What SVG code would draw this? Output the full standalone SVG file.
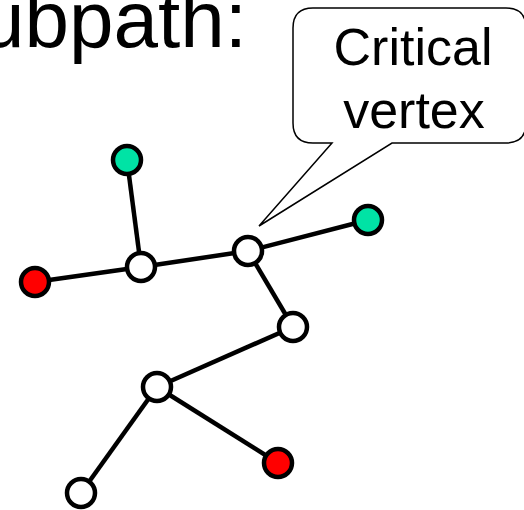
<svg xmlns="http://www.w3.org/2000/svg" width="524" height="510" viewBox="0 0 524 510">
  <style>
    .title { font-family: "Liberation Sans", Arial, sans-serif; font-size: 80px; fill: #000; }
    .label { font-family: "Liberation Sans", Arial, sans-serif; font-size: 52px; fill: #000; text-anchor: middle; }
    .callout { fill: #fff; stroke: #000; stroke-width: 1.5; stroke-linejoin: miter; }
    .edge { stroke: #000; stroke-width: 4.5; fill: none; }
    .node { stroke: #000; stroke-width: 4.5; }
    .plain { fill: #fff; }
    .leaf-a { fill: #00E3A5; }
    .leaf-b { fill: #FF0000; }
  </style>

  <rect width="524" height="510" fill="#fff"/>

  <text class="title" x="247" y="47" text-anchor="end">ubpath:</text>

  <!-- callout bubble pointing at the critical vertex -->
  <g id="callout">
    <path class="callout" d="M313,8 H506 Q526,8 526,28 V123 Q526,143 506,143 H392 L259,226 L332,143 H313 Q293,143 293,123 V28 Q293,8 313,8 Z"/>
    <text class="label" x="413" y="65">Critical</text>
    <text class="label" x="414" y="128">vertex</text>
  </g>

  <g id="edges">
    <line class="edge" x1="127" y1="160" x2="141" y2="267"/>
    <line class="edge" x1="35" y1="282" x2="141" y2="267"/>
    <line class="edge" x1="141" y1="267" x2="248" y2="251"/>
    <line class="edge" x1="248" y1="251" x2="368" y2="220"/>
    <line class="edge" x1="248" y1="251" x2="293" y2="327"/>
    <line class="edge" x1="293" y1="327" x2="157" y2="387"/>
    <line class="edge" x1="157" y1="387" x2="81" y2="493"/>
    <line class="edge" x1="157" y1="387" x2="278" y2="463"/>
  </g>

  <g id="n-top"><circle class="node leaf-a" cx="127" cy="160" r="14"/></g>
  <g id="n-left"><circle class="node leaf-b" cx="35" cy="282" r="14"/></g>
  <g id="n-a"><circle class="node plain" cx="141" cy="267" r="14"/></g>
  <g id="n-critical"><circle class="node plain" cx="248" cy="251" r="14"/></g>
  <g id="n-right"><circle class="node leaf-a" cx="368" cy="220" r="14"/></g>
  <g id="n-c"><circle class="node plain" cx="293" cy="327" r="14"/></g>
  <g id="n-d"><circle class="node plain" cx="157" cy="387" r="14"/></g>
  <g id="n-bottom-red"><circle class="node leaf-b" cx="278" cy="463" r="14"/></g>
  <g id="n-e"><circle class="node plain" cx="81" cy="493" r="14"/></g>
</svg>
